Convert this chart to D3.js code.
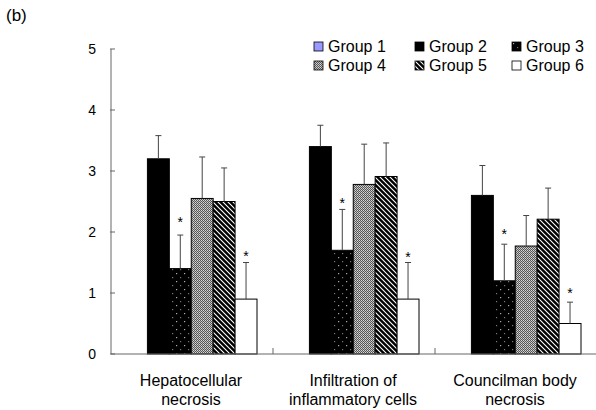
<!DOCTYPE html>
<html>
<head>
<meta charset="utf-8">
<script src="https://cdn.jsdelivr.net/npm/d3@7"></script>
<style>
  body { margin: 0; background: #fff; }
  text { font-family: "Liberation Sans", Arial, sans-serif; fill: #000; }
</style>
</head>
<body>
<svg id="chart" width="596" height="410"></svg>
<script>
// categories (two-line labels) and groups
var categories = ["Hepatocellular|necrosis", "Infiltration of|inflammatory cells", "Councilman body|necrosis"];
var groups = ["Group 1", "Group 2", "Group 3", "Group 4", "Group 5", "Group 6"];

// mean scores per group, one entry per category
var group1 = [0, 0, 0];
var group2 = [3.2, 3.4, 2.6];
var group3 = [1.4, 1.7, 1.2];
var group4 = [2.55, 2.78, 1.77];
var group5 = [2.5, 2.91, 2.21];
var group6 = [0.9, 0.9, 0.5];

// upper error (SD) per group
var err1 = [0, 0, 0];
var err2 = [0.38, 0.35, 0.49];
var err3 = [0.55, 0.67, 0.6];
var err4 = [0.68, 0.66, 0.5];
var err5 = [0.55, 0.55, 0.51];
var err6 = [0.6, 0.6, 0.35];

// asterisk level (score units) for group 3 and group 6
var starsG3 = [2.21, 2.52, 2.02];
var starsG6 = [1.66, 1.64, 1.05];

var yTicks = [0, 1, 2, 3, 4, 5];

var values = [group1, group2, group3, group4, group5, group6];
var errors = [err1, err2, err3, err4, err5, err6];

var svg = d3.select('#chart');

// patterns
var defs = svg.append('defs');

var p3 = defs.append('pattern').attr('id', 'pat3')
  .attr('patternUnits', 'userSpaceOnUse').attr('width', 8).attr('height', 8);
p3.append('rect').attr('width', 8).attr('height', 8).attr('fill', '#000');
p3.append('rect').attr('x', 1).attr('y', 1).attr('width', 1.2).attr('height', 1.2).attr('fill', '#aaa');
p3.append('rect').attr('x', 5).attr('y', 5).attr('width', 1.2).attr('height', 1.2).attr('fill', '#777');

var p4 = defs.append('pattern').attr('id', 'pat4')
  .attr('patternUnits', 'userSpaceOnUse').attr('width', 2).attr('height', 2);
p4.append('rect').attr('width', 2).attr('height', 2).attr('fill', '#555');
p4.append('rect').attr('width', 1).attr('height', 1).attr('fill', '#d8d8d8');
p4.append('rect').attr('x', 1).attr('y', 1).attr('width', 1).attr('height', 1).attr('fill', '#bbb');

var p5 = defs.append('pattern').attr('id', 'pat5')
  .attr('patternUnits', 'userSpaceOnUse').attr('width', 5).attr('height', 5);
p5.append('rect').attr('width', 5).attr('height', 5).attr('fill', '#000');
p5.append('path').attr('d', 'M-1,-1 L6,6 M-1,4 L1,6 M4,-1 L6,1')
  .attr('stroke', '#fff').attr('stroke-width', 1.1);

var fills = ['#9999ff', '#000', 'url(#pat3)', 'url(#pat4)', 'url(#pat5)', '#fff'];

var plotLeft = 111, plotRight = 597, plotTop = 49, plotBottom = 354;

var x0 = d3.scaleBand()
  .domain(d3.range(categories.length))
  .range([plotLeft, plotRight])
  .paddingInner(0).paddingOuter(0);

var x1 = d3.scaleBand()
  .domain(d3.range(groups.length))
  .range([14.5, x0.bandwidth() - 16])
  .padding(0);

var y = d3.scaleLinear().domain([0, 5]).range([plotBottom, plotTop]);

// y axis
var yAxis = d3.axisLeft(y).tickValues(yTicks).tickFormat(d3.format('d')).tickSize(0).tickPadding(15);
var gy = svg.append('g').attr('transform', 'translate(' + plotLeft + ',0)').call(yAxis);
gy.select('.domain').remove();
gy.selectAll('text').style('font-size', '14px').style('font-family', '"Liberation Sans", Arial, sans-serif');

svg.append('line')
  .attr('x1', plotLeft).attr('x2', plotLeft)
  .attr('y1', y(5)).attr('y2', y(0))
  .attr('stroke', '#666').attr('stroke-width', 1);

svg.selectAll('.ytick')
  .data(yTicks)
  .enter().append('line')
  .attr('x1', plotLeft - 1).attr('x2', plotLeft + 4)
  .attr('y1', function(d) { return y(d); })
  .attr('y2', function(d) { return y(d); })
  .attr('stroke', '#666');

// bars
var cat = svg.selectAll('.cat')
  .data(categories)
  .enter().append('g')
  .attr('class', 'cat')
  .attr('transform', function(d, i) { return 'translate(' + x0(i) + ',0)'; });

cat.selectAll('rect')
  .data(function(d, i) {
    return groups.map(function(g, j) { return { g: j, v: values[j][i], e: errors[j][i] }; });
  })
  .enter().append('rect')
  .filter(function(d) { return d.v > 0; })
  .attr('x', function(d) { return x1(d.g); })
  .attr('y', function(d) { return y(d.v); })
  .attr('width', x1.bandwidth())
  .attr('height', function(d) { return y(0) - y(d.v); })
  .attr('fill', function(d) { return fills[d.g]; })
  .attr('stroke', '#000')
  .attr('stroke-width', 1);

// error bars
var eb = cat.selectAll('.err')
  .data(function(d, i) {
    return groups.map(function(g, j) { return { g: j, v: values[j][i], e: errors[j][i] }; })
      .filter(function(d) { return d.e > 0; });
  })
  .enter().append('g').attr('class', 'err');

eb.append('line')
  .attr('x1', function(d) { return x1(d.g) + x1.bandwidth() / 2; })
  .attr('x2', function(d) { return x1(d.g) + x1.bandwidth() / 2; })
  .attr('y1', function(d) { return y(d.v); })
  .attr('y2', function(d) { return y(d.v + d.e); })
  .attr('stroke', '#444').attr('stroke-width', 1);

eb.append('line')
  .attr('x1', function(d) { return x1(d.g) + x1.bandwidth() / 2 - 3; })
  .attr('x2', function(d) { return x1(d.g) + x1.bandwidth() / 2 + 3; })
  .attr('y1', function(d) { return y(d.v + d.e); })
  .attr('y2', function(d) { return y(d.v + d.e); })
  .attr('stroke', '#444').attr('stroke-width', 1);

// asterisks
var starData = [];
categories.forEach(function(c, i) {
  starData.push({ c: i, g: 2, v: starsG3[i] });
  starData.push({ c: i, g: 5, v: starsG6[i] });
});
svg.selectAll('.star')
  .data(starData)
  .enter().append('text')
  .attr('class', 'star')
  .attr('x', function(d) { return x0(d.c) + x1(d.g) + x1.bandwidth() / 2; })
  .attr('y', function(d) { return y(d.v) + 8; })
  .attr('text-anchor', 'middle')
  .style('font-size', '14px')
  .text('*');

// x axis line and category separators
svg.append('line')
  .attr('x1', plotLeft).attr('x2', 596)
  .attr('y1', y(0)).attr('y2', y(0))
  .attr('stroke', '#666').attr('stroke-width', 1);

svg.selectAll('.xtick')
  .data(d3.range(1, categories.length))
  .enter().append('line')
  .attr('x1', function(d) { return x0(d); })
  .attr('x2', function(d) { return x0(d); })
  .attr('y1', y(0)).attr('y2', y(0) - 6)
  .attr('stroke', '#666');

// category labels
var lbl = svg.selectAll('.xlabel')
  .data(categories)
  .enter().append('text')
  .attr('class', 'xlabel')
  .attr('text-anchor', 'middle')
  .style('font-size', '16px');

lbl.selectAll('tspan')
  .data(function(d, i) { return d.split('|').map(function(s) { return { s: s, i: i }; }); })
  .enter().append('tspan')
  .attr('x', function(d) { return x0(d.i) + x0.bandwidth() / 2 - 1; })
  .attr('y', function(d, k) { return 386 + k * 19; })
  .text(function(d) { return d.s; });

// legend
var legX = [314, 415, 512];
var legY = [42, 61];
var leg = svg.selectAll('.leg')
  .data(groups)
  .enter().append('g')
  .attr('class', 'leg')
  .attr('transform', function(d, i) { return 'translate(' + legX[i % 3] + ',' + legY[Math.floor(i / 3)] + ')'; });

leg.append('rect')
  .attr('width', 9).attr('height', 9)
  .attr('fill', function(d, i) { return fills[i]; })
  .attr('stroke', '#000').attr('stroke-width', 0.8);

leg.append('text')
  .attr('x', 14).attr('y', 10)
  .style('font-size', '16px')
  .text(function(d) { return d; });

// panel label
svg.append('text')
  .attr('x', 6).attr('y', 21)
  .style('font-size', '17px')
  .text('(b)');
</script>
</body>
</html>
